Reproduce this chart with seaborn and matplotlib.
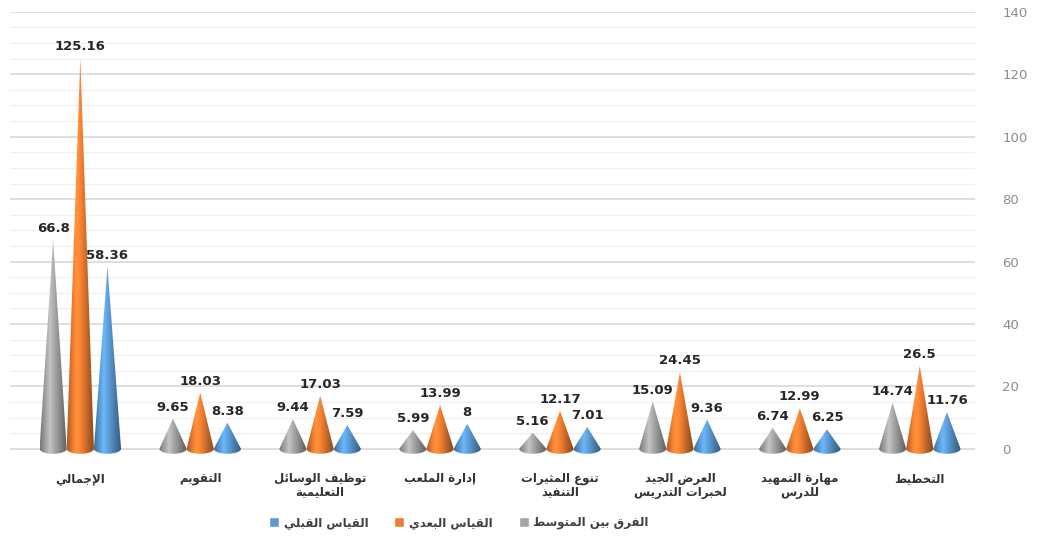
import matplotlib
matplotlib.use("Agg")
import matplotlib.pyplot as plt
import numpy as np
import pandas as pd
import seaborn as sns
from matplotlib.patches import Polygon, Patch
from matplotlib.ticker import MultipleLocator

# Données
categories = ["الإجمالي", "التقويم", "توظيف الوسائل\nالتعليمية", "إدارة الملعب",
              "تنوع المثيرات\nالتنفيذ", "العرض الجيد\nلخبرات التدريس",
              "مهارة التمهيد\nللدرس", "التخطيط"]
series = ["الفرق بين المتوسط", "القياس البعدي", "القياس القبلي"]
diff_vals = [66.8, 9.65, 9.44, 5.99, 5.16, 15.09, 6.74, 14.74]
post_vals = [125.16, 18.03, 17.03, 13.99, 12.17, 24.45, 12.99, 26.5]
pre_vals = [58.36, 8.38, 7.59, 8, 7.01, 9.36, 6.25, 11.76]
colors = ["#A5A5A5", "#ED7D31", "#5B9BD5"]
yticks = [0, 20, 40, 60, 80, 100, 120, 140]

# --- mise en forme minimale de l'arabe (formes contextuelles + sens RTL) ---
DUAL = {'ئ': 0xFE89, 'ب': 0xFE8F, 'ت': 0xFE95, 'ث': 0xFE99, 'ج': 0xFE9D, 'ح': 0xFEA1,
        'خ': 0xFEA5, 'س': 0xFEB1, 'ش': 0xFEB5, 'ص': 0xFEB9, 'ض': 0xFEBD, 'ط': 0xFEC1,
        'ظ': 0xFEC5, 'ع': 0xFEC9, 'غ': 0xFECD, 'ف': 0xFED1, 'ق': 0xFED5, 'ك': 0xFED9,
        'ل': 0xFEDD, 'م': 0xFEE1, 'ن': 0xFEE5, 'ه': 0xFEE9, 'ي': 0xFEF1}
RIGHT = {'آ': 0xFE81, 'أ': 0xFE83, 'ؤ': 0xFE85, 'إ': 0xFE87, 'ا': 0xFE8D, 'ة': 0xFE93,
         'د': 0xFEA9, 'ذ': 0xFEAB, 'ر': 0xFEAD, 'ز': 0xFEAF, 'و': 0xFEED, 'ى': 0xFEEF}
LAMALEF = {'آ': 0xFEF5, 'أ': 0xFEF7, 'إ': 0xFEF9, 'ا': 0xFEFB}


def shape_line(line):
    tokens = []
    i = 0
    while i < len(line):
        c = line[i]
        if c == 'ل' and i + 1 < len(line) and line[i + 1] in LAMALEF:
            tokens.append(('la', line[i + 1]))
            i += 2
            continue
        kind = 'dual' if c in DUAL else 'right' if c in RIGHT else 'none'
        tokens.append((kind, c))
        i += 1
    out = []
    for k, (kind, c) in enumerate(tokens):
        p = k > 0 and tokens[k - 1][0] == 'dual' and kind != 'none'
        nx = kind == 'dual' and k + 1 < len(tokens) and tokens[k + 1][0] != 'none'
        if kind == 'dual':
            out.append(chr(DUAL[c] + (3 if p and nx else 1 if p else 2 if nx else 0)))
        elif kind == 'right':
            out.append(chr(RIGHT[c] + (1 if p else 0)))
        elif kind == 'la':
            out.append(chr(LAMALEF[c] + (1 if p else 0)))
        else:
            out.append(c)
    return "".join(reversed(out))


def ar(text):
    return "\n".join(shape_line(l) for l in text.split("\n"))


df = pd.DataFrame({
    "cat": categories * 3,
    "serie": [s for s in series for _ in categories],
    "val": diff_vals + post_vals + pre_vals,
})

sns.set_style("white")
plt.rcParams['font.family'] = ['DejaVu Sans']

fig = plt.figure(figsize=(10.38, 5.39), dpi=100)
ax = fig.add_axes([0.01, 0.15, 0.929, 0.828])

sns.barplot(data=df, x="cat", y="val", hue="serie", order=categories,
            hue_order=series, palette=colors, width=0.68, ax=ax, legend=False)

# Transformer chaque barre en cône avec un dégradé
shade = np.concatenate([np.linspace(0.72, 1.18, 35), np.linspace(1.18, 0.55, 65)])
for cont, col in zip(ax.containers, colors):
    rgb = np.array(matplotlib.colors.to_rgb(col))
    img = np.clip(rgb[None, :] * shade[:, None], 0, 1)[None, :, :]
    for bar in cont:
        x0 = bar.get_x()
        w = bar.get_width()
        h = bar.get_height()
        xc = x0 + w / 2
        bar.set_visible(False)
        t = np.linspace(0, np.pi, 30)
        arc = np.column_stack([xc + (w / 2) * np.cos(t), -1.6 * np.sin(t)])
        pts = np.vstack([[xc, h], arc])
        poly = Polygon(pts, closed=True, facecolor="none", edgecolor="none")
        ax.add_patch(poly)
        im = ax.imshow(img, extent=[x0, x0 + w, -1.7, h], aspect="auto",
                       interpolation="bilinear", zorder=3)
        im.set_clip_path(poly)
        ax.text(xc, h + 1.6, f"{h:g}", ha="center", va="bottom", fontsize=9.5,
                fontweight="bold", color="#262626", zorder=5)

ax.set_xlim(-0.583, 7.458)
ax.set_ylim(-3, 140)
ax.yaxis.tick_right()
ax.set_yticks(yticks)
ax.yaxis.set_minor_locator(MultipleLocator(5))
ax.grid(axis="y", which="major", color="#D9D9D9", linewidth=1.2, zorder=0)
ax.grid(axis="y", which="minor", color="#EFEFEF", linewidth=0.8, zorder=0)
ax.set_axisbelow(True)
ax.tick_params(axis="y", which="both", length=0, pad=20, labelsize=9.5,
               labelcolor="#8C8C8C")
ax.set_xticks(range(len(categories)))
ax.set_xticklabels([ar(c) for c in categories], fontsize=8.5, fontweight="bold",
                   color="#333333", linespacing=1.05)
ax.tick_params(axis="x", length=0, pad=10)
ax.set_xlabel("")
ax.set_ylabel("")
for s in ax.spines.values():
    s.set_visible(False)

handles = [Patch(facecolor=c) for c in colors]
labels = [ar(s) for s in series]
fig.legend(handles[::-1], labels[::-1], loc="center", bbox_to_anchor=(0.442, 0.03),
           ncol=3, frameon=False, handlelength=0.85, handleheight=0.85,
           handletextpad=0.4, columnspacing=2.2,
           prop={"size": 8.5, "weight": "bold"}, labelcolor="#404040")

fig.savefig("out.png", dpi=100)
